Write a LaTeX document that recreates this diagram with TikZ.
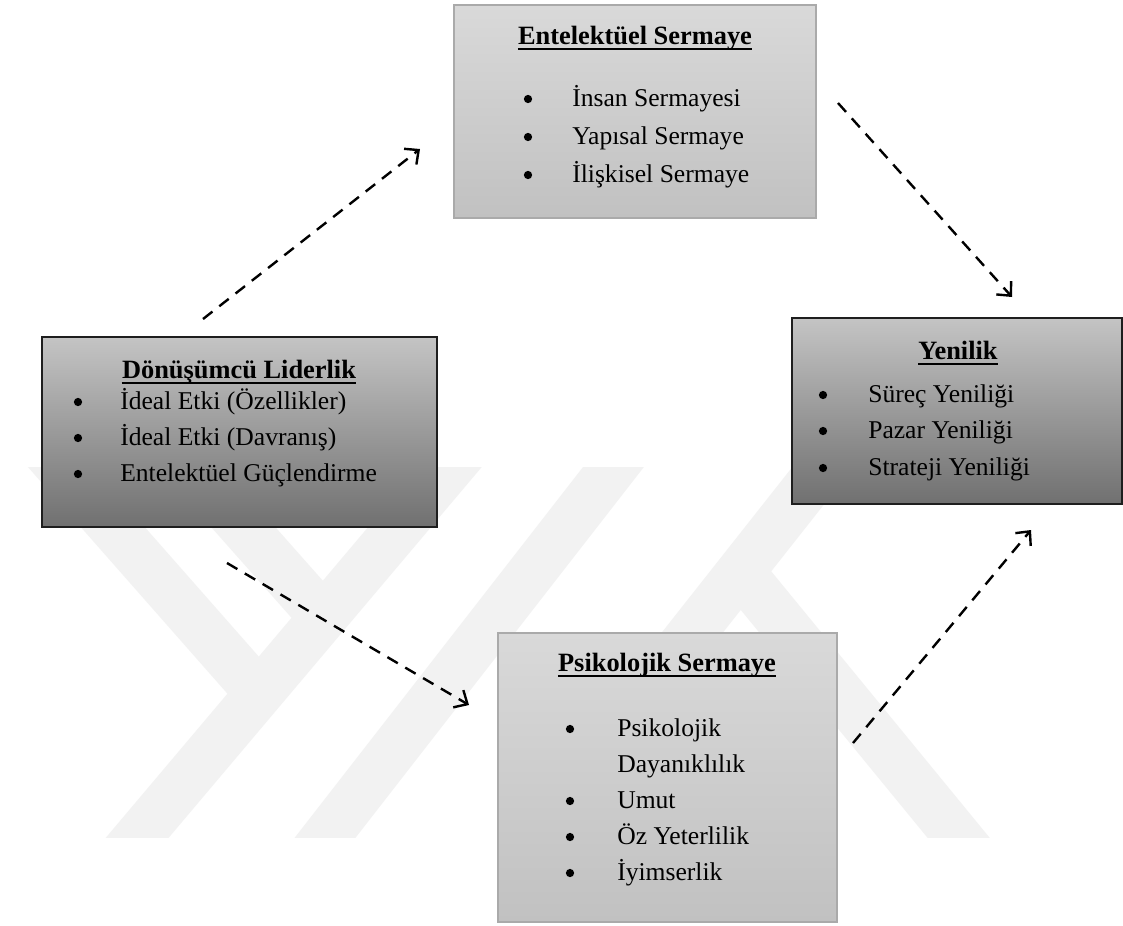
\documentclass[tikz,border=0pt]{standalone}
\usepackage{fontspec}
\setmainfont{Liberation Serif}
\usetikzlibrary{arrows.meta}
\definecolor{wm}{RGB}{242,242,242}
\definecolor{lightTop}{RGB}{217,217,217}
\definecolor{lightBot}{RGB}{193,193,193}
\definecolor{lightBorder}{RGB}{170,170,170}
\definecolor{darkTop}{RGB}{196,196,196}
\definecolor{darkBot}{RGB}{112,112,112}
\definecolor{darkBorder}{RGB}{30,30,30}
\begin{document}
\begin{tikzpicture}[x=0.75pt,y=-0.75pt,
  lightbox/.style={draw=lightBorder, line width=1.3pt, top color=lightTop, bottom color=lightBot, inner sep=0pt},
  darkbox/.style={draw=darkBorder, line width=1.2pt, top color=darkTop, bottom color=darkBot, inner sep=0pt},
  ttl/.style={font=\bfseries\fontsize{19.8}{22}\selectfont, inner sep=0pt, anchor=base},
  itm/.style={font=\fontsize{19.2}{22}\selectfont, inner sep=0pt, anchor=base west},
  dot/.style={circle, fill=black, inner sep=0pt, minimum size=6.2pt},
  uline/.style={line width=1.5pt, black},
  flow/.style={dash pattern=on 9pt off 6.5pt, line width=1.8pt, -{Straight Barb[length=8pt,width=15pt,line width=1.8pt]}},
  wmband/.style={line width=36pt, wm}
]
\useasboundingbox[fill=white] (0,0) rectangle (1123,925);

% watermark
\begin{scope}
\clip (0,467) rectangle (1123,837);
\draw[wmband] (15,416) -- (265,700);
\draw[wmband] (190,467) -- (330,625);
\draw[wmband] (490,420) -- (110,870);
\draw[wmband] (650,420) -- (300,870);
\draw[wmband] (860,420) -- (505,870);
\draw[wmband] (735,565) -- (985,870);
\end{scope}

% boxes
\node[lightbox, minimum width=271.5pt, minimum height=159.75pt] (es) at (635,111.5) {};
\node[darkbox, minimum width=296.25pt, minimum height=142.5pt] (dl) at (239.5,432) {};
\node[darkbox, minimum width=247.5pt, minimum height=139.5pt] (yn) at (957,411) {};
\node[lightbox, minimum width=254.25pt, minimum height=216.75pt] (ps) at (667.5,777.5) {};

% Entelektüel Sermaye
\node[ttl] (esT) at (635,44) {Entelektüel Sermaye};
\draw[uline] ([yshift=-3.75pt]esT.base west) -- ([yshift=-3.75pt]esT.base east);
\node[dot] (esB1) at (528,99) {};
\node[itm] (esI1) at (572,106) {İnsan Sermayesi};
\node[dot] (esB2) at (528,137) {};
\node[itm] (esI2) at (572,144) {Yapısal Sermaye};
\node[dot] (esB3) at (528,175) {};
\node[itm] (esI3) at (572,182) {İlişkisel Sermaye};

% Dönüşümcü Liderlik
\node[ttl] (dlT) at (239,378) {Dönüşümcü Liderlik};
\draw[uline] ([yshift=-3.75pt]dlT.base west) -- ([yshift=-3.75pt]dlT.base east);
\node[dot] (dlB1) at (78,402) {};
\node[itm] (dlI1) at (120,409) {İdeal Etki (Özellikler)};
\node[dot] (dlB2) at (78,438) {};
\node[itm] (dlI2) at (120,445) {İdeal Etki (Davranış)};
\node[dot] (dlB3) at (78,474) {};
\node[itm] (dlI3) at (120,481) {Entelektüel Güçlendirme};

% Yenilik
\node[ttl] (ynT) at (958,359) {Yenilik};
\draw[uline] ([yshift=-3.75pt]ynT.base west) -- ([yshift=-3.75pt]ynT.base east);
\node[dot] (ynB1) at (823,395) {};
\node[itm] (ynI1) at (868,402) {Süreç Yeniliği};
\node[dot] (ynB2) at (823,431) {};
\node[itm] (ynI2) at (868,438) {Pazar Yeniliği};
\node[dot] (ynB3) at (823,468) {};
\node[itm] (ynI3) at (868,475) {Strateji Yeniliği};

% Psikolojik Sermaye
\node[ttl] (psT) at (667,671) {Psikolojik Sermaye};
\draw[uline] ([yshift=-3.75pt]psT.base west) -- ([yshift=-3.75pt]psT.base east);
\node[dot] (psB1) at (570,729) {};
\node[itm] (psI1) at (617,736) {Psikolojik};
\node[itm] (psI1b) at (617,772) {Dayanıklılık};
\node[dot] (psB2) at (570,801) {};
\node[itm] (psI2) at (617,808) {Umut};
\node[dot] (psB3) at (570,837) {};
\node[itm] (psI3) at (617,844) {Öz Yeterlilik};
\node[dot] (psB4) at (570,873) {};
\node[itm] (psI4) at (617,880) {İyimserlik};

% connectors
\coordinate (a1s) at (203,319);
\coordinate (a1e) at (420,149);
\coordinate (a2s) at (838,103);
\coordinate (a2e) at (1012,297);
\coordinate (a3s) at (227,563);
\coordinate (a3e) at (469,705);
\coordinate (a4s) at (853,743);
\coordinate (a4e) at (1031,530);
\draw[flow] (a1s) -- (a1e);
\draw[flow] (a2s) -- (a2e);
\draw[flow] (a3s) -- (a3e);
\draw[flow] (a4s) -- (a4e);
\end{tikzpicture}
\end{document}
